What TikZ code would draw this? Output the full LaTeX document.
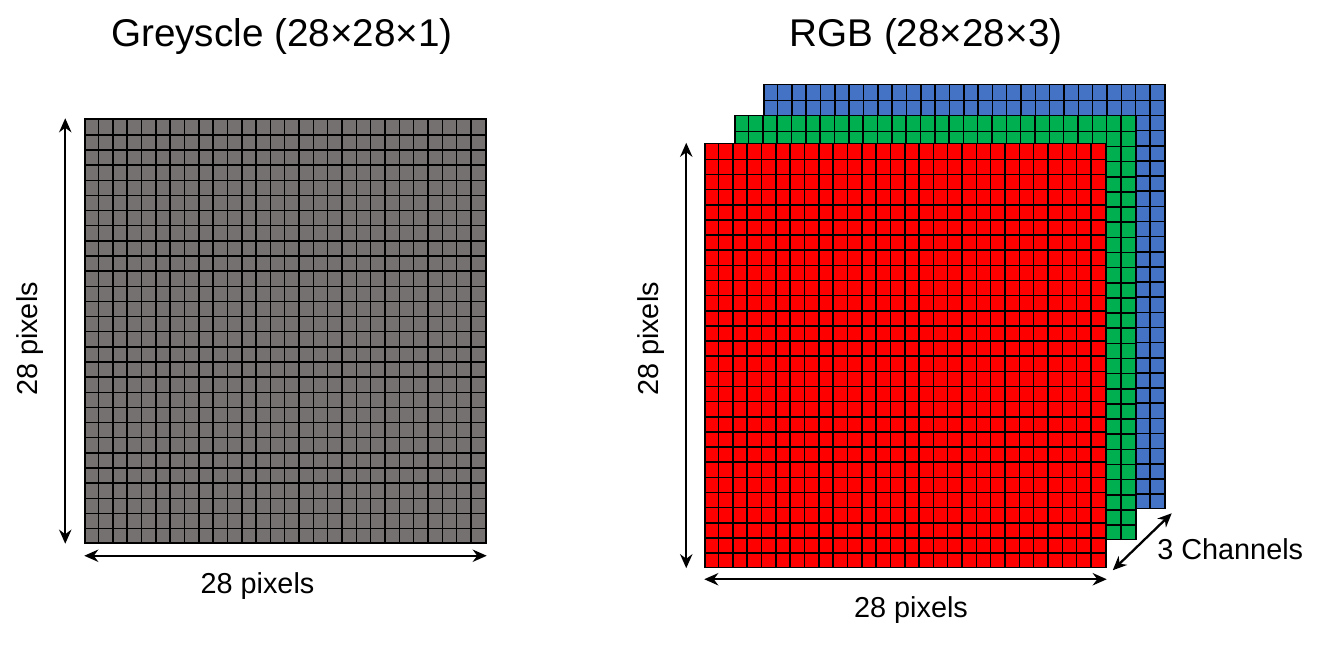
\documentclass[tikz,border=0pt]{standalone}
\usepackage{fontspec}
\setmainfont{Liberation Sans}
\usetikzlibrary{arrows.meta, positioning}
\definecolor{greyfill}{RGB}{118,113,113}
\definecolor{redfill}{RGB}{255,0,0}
\definecolor{greenfill}{RGB}{0,176,80}
\definecolor{bluefill}{RGB}{68,114,196}
\tikzstyle{image} = [rectangle, minimum width=8.02cm, minimum height=8.48cm, inner sep=0pt, draw=black, line width=0.85pt]
\tikzstyle{arrow} = [line width=1.3pt, {Stealth[length=8pt,width=7pt]}-{Stealth[length=8pt,width=7pt]}]
\tikzstyle{title} = [font=\fontsize{22}{26}\selectfont]
\tikzstyle{dimtext} = [font=\fontsize{16.4}{19}\selectfont]
% pixel grid drawn on top of an image node
\newcommand{\pixelgrid}[1]{
    \begin{scope}[shift={(#1.south west)}, line width=0.85pt]
        \foreach \i in {1,...,27} {
            \draw (\i*0.28643,0) -- (\i*0.28643,8.48);
            \draw (0,\i*0.30286) -- (8.02,\i*0.30286);
        }
    \end{scope}
}

\begin{document}
\begin{tikzpicture}
    \useasboundingbox (0,0) rectangle (26.44,12.9);

    % greyscale image
    \node (grey) [image, fill=greyfill] at (5.71,6.28) {};
    \pixelgrid{grey}
    \node (greytitle) [title] at (5.64,12.16) {Greyscle (28×28×1)};
    \draw [arrow] ([xshift=-0.38cm]grey.north west) -- ([xshift=-0.38cm]grey.south west);
    \draw [arrow] ([yshift=-0.24cm]grey.south west) -- ([yshift=-0.24cm]grey.south east);
    \node (greyh) [dimtext, rotate=90] at (0.6,6.12) {28 pixels};
    \node (greyw) [dimtext] at ([xshift=-0.56cm, yshift=-0.84cm]grey.south) {28 pixels};

    % RGB image, three channels
    \node (blue) [image, fill=bluefill] at (19.29,6.97) {};
    \pixelgrid{blue}
    \node (green) [image, fill=greenfill] at (18.71,6.35) {};
    \pixelgrid{green}
    \node (red) [image, fill=redfill] at (18.11,5.79) {};
    \pixelgrid{red}
    \node (rgbtitle) [title] at (18.52,12.16) {RGB (28×28×3)};
    \draw [arrow] ([xshift=-0.36cm]red.north west) -- ([xshift=-0.36cm]red.south west);
    \draw [arrow] ([yshift=-0.22cm]red.south west) -- ([yshift=-0.22cm]red.south east);
    \draw [arrow] ([shift={(0.12,-0.04)}]red.south east) -- ([shift={(0.12,-0.08)}]blue.south east);
    \node (rgbh) [dimtext, rotate=90] at (13.02,6.12) {28 pixels};
    \node (rgbw) [dimtext] at ([xshift=0.11cm, yshift=-0.84cm]red.south) {28 pixels};
    \node (chan) [dimtext] at ([shift={(2.47,0.38)}]red.south east) {3 Channels};
\end{tikzpicture}
\end{document}
